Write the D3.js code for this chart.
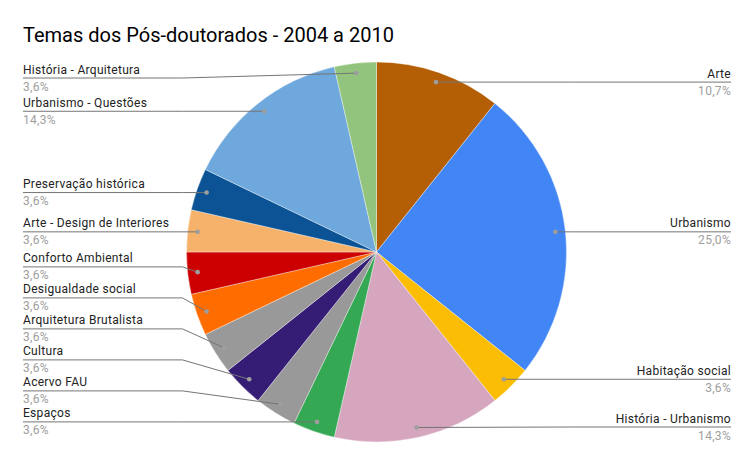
<!DOCTYPE html>
<html>
<head>
<meta charset="utf-8">
<script src="https://cdn.jsdelivr.net/npm/d3@7"></script>
<style>
  html, body { margin: 0; padding: 0; background: #fff; }
  svg { display: block; font-family: Roboto, "Liberation Sans", Arial, sans-serif; }
</style>
</head>
<body>
<svg id="chart" width="754" height="466"></svg>
<script>
const title = "Temas dos Pós-doutorados - 2004 a 2010";
const categories = [
  "Arte", "Urbanismo", "Habitação social", "História - Urbanismo", "Espaços",
  "Acervo FAU", "Cultura", "Arquitetura Brutalista", "Desigualdade social",
  "Conforto Ambiental", "Arte - Design de Interiores", "Preservação histórica",
  "Urbanismo - Questões", "História - Arquitetura"
];
const counts = [3, 7, 1, 4, 1, 1, 1, 1, 1, 1, 1, 1, 4, 1];
const colors = [
  "#b45f06", "#4285f4", "#fbbc04", "#d5a6bd", "#34a853",
  "#999999", "#351c75", "#999999", "#ff6d01",
  "#cc0000", "#f6b26b", "#0b5394",
  "#6fa8dc", "#93c47d"
];

const W = 754, H = 466;
const cx = 376.5, cy = 252, R = 190;
const dotR = 180;
const svg = d3.select("#chart");

svg.append("text")
  .attr("x", 23).attr("y", 42)
  .attr("font-size", 20).attr("fill", "#000")
  .text(title);

const data = categories.map((c, i) => ({ name: c, value: counts[i], color: colors[i], i }));
const total = d3.sum(counts);
const pie = d3.pie().value(d => d.value).sort(null);
const arcs = pie(data);
const arc = d3.arc().innerRadius(0).outerRadius(R);

const g = svg.append("g").attr("transform", `translate(${cx},${cy})`);
g.selectAll("path.slice").data(arcs).enter().append("path")
  .attr("class", "slice")
  .attr("d", arc)
  .attr("fill", d => d.data.color)
  .attr("stroke", "#fff").attr("stroke-width", 0.6).attr("stroke-opacity", 0.6);

const fmt = v => (v * 100).toFixed(1).replace(".", ",") + "%";

// label layout
const labels = arcs.map(a => {
  const mid = (a.startAngle + a.endAngle) / 2;
  const x = cx + dotR * Math.sin(mid);
  const y = cy - dotR * Math.cos(mid);
  return { a, mid, dx: x, dy: y, side: Math.sin(mid) >= 0 ? "right" : "left", ly: y };
});
const spacing = 31, minY = 78, maxY = 427;
["left", "right"].forEach(side => {
  const arr = labels.filter(l => l.side === side).sort((p, q) => q.dy - p.dy);
  let prev = Infinity;
  arr.forEach(l => { l.ly = Math.min(l.dy, maxY, prev - spacing); prev = l.ly; });
  arr.reverse();
  prev = -Infinity;
  arr.forEach(l => { l.ly = Math.max(l.ly, minY, prev + spacing); prev = l.ly; });
});

const leftX = 23, rightX = 731;
const bendLeft = cx - R - 4, bendRight = cx + R + 4;
const line = d3.line();
const lg = svg.append("g");
labels.forEach(l => {
  const tx = l.side === "left" ? leftX : rightX;
  const bx = l.side === "left" ? Math.min(bendLeft, l.dx) : Math.max(bendRight, l.dx);
  lg.append("path")
    .attr("d", line([[tx, l.ly], [bx, l.ly], [l.dx, l.dy]]))
    .attr("fill", "none").attr("stroke", "#757575").attr("stroke-width", 1);
  lg.append("circle")
    .attr("cx", l.dx).attr("cy", l.dy).attr("r", 2.3)
    .attr("fill", "#9e9e9e");
  const anchor = l.side === "left" ? "start" : "end";
  lg.append("text")
    .attr("x", tx).attr("y", l.ly - 4.5)
    .attr("text-anchor", anchor)
    .attr("font-size", 12).attr("fill", "#222")
    .attr("letter-spacing", 0.3)
    .text(l.a.data.name);
  lg.append("text")
    .attr("x", tx).attr("y", l.ly + 12.5)
    .attr("text-anchor", anchor)
    .attr("font-size", 12).attr("fill", "#9e9e9e")
    .attr("letter-spacing", 0.3)
    .text(fmt(l.a.data.value / total));
});
</script>
</body>
</html>
